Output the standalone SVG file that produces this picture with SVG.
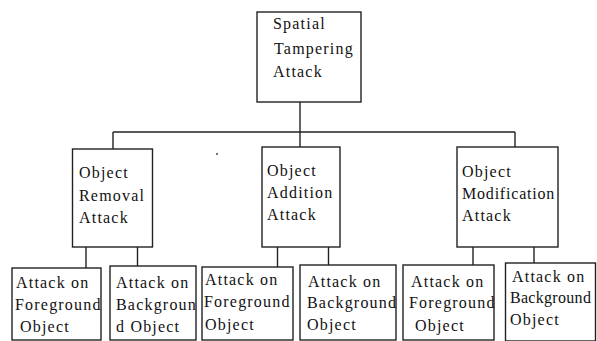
<svg xmlns="http://www.w3.org/2000/svg" width="597" height="341" viewBox="0 0 597 341">
<style>
rect.box{fill:#fff;stroke:#222;stroke-width:1.4}
.conn line{stroke:#222;stroke-width:1.4}
text{font-family:"Liberation Serif","Times New Roman",serif;font-size:16px;letter-spacing:1.2px;fill:#111}
text.tight{letter-spacing:0.8px}
text.tighter{letter-spacing:0.3px}
</style>
<rect width="597" height="341" fill="#fff"/>
<g id="connectors" class="conn">
<line x1="300" y1="102" x2="300" y2="132"/>
<line x1="113" y1="132" x2="515" y2="132"/>
<line x1="113" y1="132" x2="113" y2="149"/>
<line x1="300" y1="132" x2="300" y2="147"/>
<line x1="515" y1="132" x2="515" y2="147"/>
<line x1="86" y1="247" x2="86" y2="268"/>
<line x1="137.5" y1="247" x2="137.5" y2="266"/>
<line x1="277.5" y1="247" x2="277.5" y2="267"/>
<line x1="328.5" y1="247" x2="328.5" y2="265"/>
<line x1="473" y1="247" x2="473" y2="265"/>
<line x1="534" y1="247" x2="534" y2="263"/>
</g>
<g id="spatial">
<rect class="box" x="257" y="12" width="104" height="90"/>
<text x="273" y="29">Spatial</text>
<text x="274" y="54">Tampering</text>
<text x="273" y="77">Attack</text>
</g>
<g id="removal">
<rect class="box" x="72.5" y="149" width="80" height="98"/>
<text x="79" y="178">Object</text>
<text x="79" y="201">Removal</text>
<text x="79" y="223">Attack</text>
</g>
<g id="addition">
<rect class="box" x="262" y="147" width="78" height="100"/>
<text x="267" y="176">Object</text>
<text x="267" y="198">Addition</text>
<text x="267" y="220">Attack</text>
</g>
<g id="modification">
<rect class="box" x="457" y="147" width="101" height="100"/>
<text x="462" y="177">Object</text>
<text class="tight" x="462" y="199">Modification</text>
<text x="462" y="221">Attack</text>
</g>
<g id="removal-fg">
<rect class="box" x="12" y="268" width="89" height="72"/>
<text x="16" y="288">Attack on</text>
<text x="15" y="310">Foreground</text>
<text x="20" y="332">Object</text>
</g>
<g id="removal-bg">
<rect class="box" x="110" y="266" width="86" height="74"/>
<text x="116" y="288">Attack on</text>
<text x="116" y="310">Backgroun</text>
<text x="116" y="332">d Object</text>
</g>
<g id="addition-fg">
<rect class="box" x="202" y="267" width="91" height="73"/>
<text x="205" y="285">Attack on</text>
<text x="204" y="307">Foreground</text>
<text x="205" y="330">Object</text>
</g>
<g id="addition-bg">
<rect class="box" x="300" y="265" width="96" height="75"/>
<text x="308" y="287">Attack on</text>
<text x="307" y="308">Background</text>
<text x="307" y="330">Object</text>
</g>
<g id="modification-fg">
<rect class="box" x="403" y="265" width="91" height="75"/>
<text x="411" y="287">Attack on</text>
<text x="409" y="308">Foreground</text>
<text x="415" y="331">Object</text>
</g>
<g id="modification-bg">
<rect class="box" x="505.5" y="263" width="90" height="78"/>
<text x="512" y="282">Attack on</text>
<text class="tighter" x="510" y="303">Background</text>
<text x="510" y="325">Object</text>
</g>
<circle cx="217" cy="154" r="0.9" fill="#333"/>
</svg>
